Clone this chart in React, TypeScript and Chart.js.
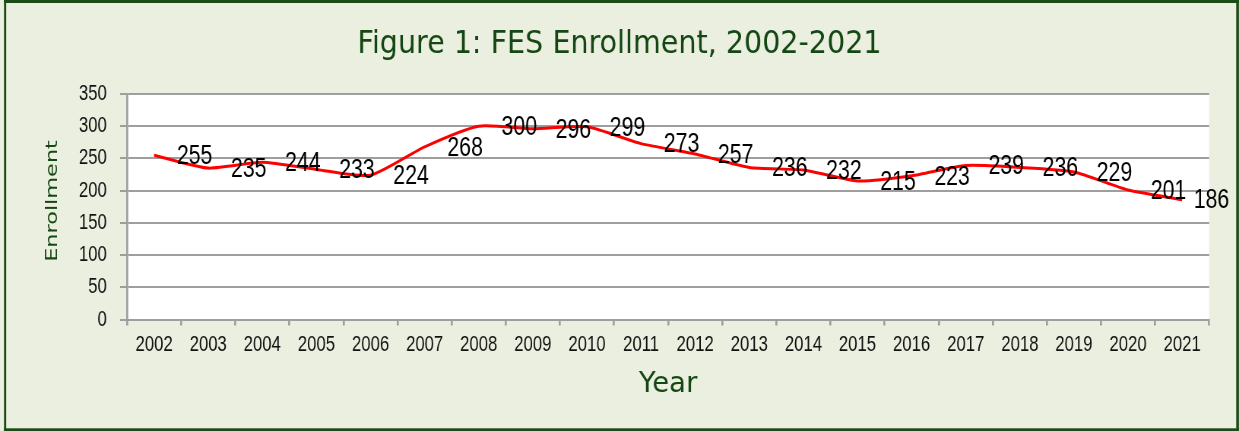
import React, { useEffect, useRef } from 'react';
import { Chart, registerables } from 'chart.js';

Chart.register(...registerables);

// ---- data ----
const years = [
  '2002', '2003', '2004', '2005', '2006', '2007', '2008', '2009', '2010', '2011',
  '2012', '2013', '2014', '2015', '2016', '2017', '2018', '2019', '2020', '2021',
];
const enrollment = [
  255, 235, 244, 233, 224, 268, 300, 296, 299, 273,
  257, 236, 232, 215, 223, 239, 236, 229, 201, 186,
];
const yTickValues = [0, 50, 100, 150, 200, 250, 300, 350];
const chartTitle = 'Figure 1: FES Enrollment, 2002-2021';
const xAxisTitle = 'Year';
const yAxisTitle = 'Enrollment';

// ---- geometry (output px; canvas is drawn wider and squeezed horizontally) ----
const OUT_W = 1239;
const OUT_H = 431;
const SQUISH = 0.76;
const W = Math.round(OUT_W / SQUISH);
const lx = (x: number) => x / SQUISH;

const PLOT_LEFT = 127;
const PLOT_RIGHT = 1209;
const PLOT_TOP = 94;
const PLOT_BOTTOM = 319.5;

const BG = '#EBEFDF';
const BORDER = '#1C4A18';
const GREEN = '#144714';
const GRID = '#9E9E9E';
const TEXT = '#111111';
const LINE = '#FF0000';
const TICK_FONT = { family: '"Liberation Sans", Arial, sans-serif', size: 22 };

function drawFitted(
  ctx: CanvasRenderingContext2D,
  text: string,
  x: number,
  y: number,
  font: string,
  targetW: number,
  rotate: boolean,
  color: string,
) {
  ctx.save();
  ctx.font = font;
  ctx.fillStyle = color;
  ctx.textAlign = 'center';
  ctx.textBaseline = 'alphabetic';
  const w = ctx.measureText(text).width;
  ctx.translate(x, y);
  if (rotate) ctx.rotate(-Math.PI / 2);
  ctx.scale(targetW / w, 1);
  ctx.fillText(text, 0, 0);
  ctx.restore();
}

const decorPlugin = {
  id: 'decor',
  beforeDraw(chart: any) {
    const { ctx, chartArea } = chart;
    ctx.save();
    ctx.fillStyle = BG;
    ctx.fillRect(0, 0, W, OUT_H);
    ctx.fillStyle = '#FFFFFF';
    ctx.fillRect(chartArea.left, chartArea.top, chartArea.right - chartArea.left, chartArea.bottom - chartArea.top);
    // outer frame
    ctx.fillStyle = BORDER;
    ctx.fillRect(lx(4), 0, lx(1238.7) - lx(4), 3);
    ctx.fillRect(lx(4), 428.3, lx(1238.7) - lx(4), 2.7);
    ctx.fillRect(lx(4), 0, lx(2.2), OUT_H);
    ctx.fillRect(lx(1236), 0, lx(2.7), OUT_H);
    ctx.restore();
  },
  afterDatasetsDraw(chart: any) {
    const { ctx } = chart;
    const meta = chart.getDatasetMeta(0);
    ctx.save();
    ctx.font = '28px "Liberation Sans", Arial, sans-serif';
    ctx.fillStyle = '#000000';
    ctx.textAlign = 'center';
    ctx.textBaseline = 'middle';
    const maxRight = lx(1229);
    meta.data.forEach((pt: any, i: number) => {
      const txt = String(enrollment[i]);
      const w = ctx.measureText(txt).width;
      let x = pt.x + lx(40.5);
      if (x + w / 2 > maxRight) x = maxRight - w / 2;
      ctx.fillText(txt, x, pt.y + 1);
    });
    ctx.restore();
  },
  afterDraw(chart: any) {
    const { ctx, chartArea } = chart;
    drawFitted(ctx, chartTitle, W / 2, 53, '32px "DejaVu Sans", sans-serif', lx(524), false, GREEN);
    drawFitted(ctx, xAxisTitle, (chartArea.left + chartArea.right) / 2, 392, '28px "DejaVu Sans", sans-serif', lx(58.4), false, GREEN);
    drawFitted(ctx, yAxisTitle, lx(57.3), 201, '22px "DejaVu Sans", sans-serif', 121.7, true, GREEN);
  },
};

export default function App() {
  const canvasRef = useRef<HTMLCanvasElement | null>(null);

  useEffect(() => {
    const canvas = canvasRef.current;
    if (!canvas) return;
    const chart = new Chart(canvas, {
      type: 'line',
      data: {
        labels: years,
        datasets: [
          {
            label: 'Enrollment',
            data: enrollment,
            borderColor: LINE,
            backgroundColor: LINE,
            borderWidth: 3,
            pointRadius: 0,
            pointHoverRadius: 0,
            tension: 0.2,
            fill: false,
          },
        ],
      },
      options: {
        animation: false,
        responsive: false,
        maintainAspectRatio: false,
        devicePixelRatio: 1,
        events: [],
        layout: {
          padding: { top: PLOT_TOP, right: W - lx(PLOT_RIGHT), bottom: 0, left: 0 },
        },
        plugins: {
          legend: { display: false },
          title: { display: false },
          tooltip: { enabled: false },
        },
        scales: {
          x: {
            type: 'category',
            offset: true,
            grid: {
              offset: true,
              drawOnChartArea: false,
              drawTicks: true,
              tickLength: 6,
              color: GRID,
              lineWidth: lx(2),
            },
            border: { display: true, color: GRID, width: 2 },
            ticks: {
              font: TICK_FONT,
              color: TEXT,
              padding: 6,
              maxRotation: 0,
              minRotation: 0,
              autoSkip: false,
            },
            afterFit: (s: any) => {
              s.height = OUT_H - PLOT_BOTTOM;
            },
          },
          y: {
            min: 0,
            max: 350,
            afterBuildTicks: (s: any) => {
              s.ticks = yTickValues.map((v) => ({ value: v }));
            },
            ticks: {
              font: TICK_FONT,
              color: TEXT,
              padding: 17.5,
            },
            grid: {
              color: GRID,
              lineWidth: 2,
              drawTicks: true,
              tickLength: lx(7),
            },
            border: { display: true, color: GRID, width: lx(2) },
            afterFit: (s: any) => {
              s.width = lx(PLOT_LEFT);
            },
          },
        },
      },
      plugins: [decorPlugin],
    } as any);
    return () => chart.destroy();
  }, []);

  return (
    <div style={{ position: 'fixed', left: 0, top: 0, width: OUT_W, height: OUT_H, margin: 0 }}>
      <canvas
        ref={canvasRef}
        width={W}
        height={OUT_H}
        style={{ width: `${OUT_W}px`, height: `${OUT_H}px`, display: 'block' }}
      />
    </div>
  );
}
